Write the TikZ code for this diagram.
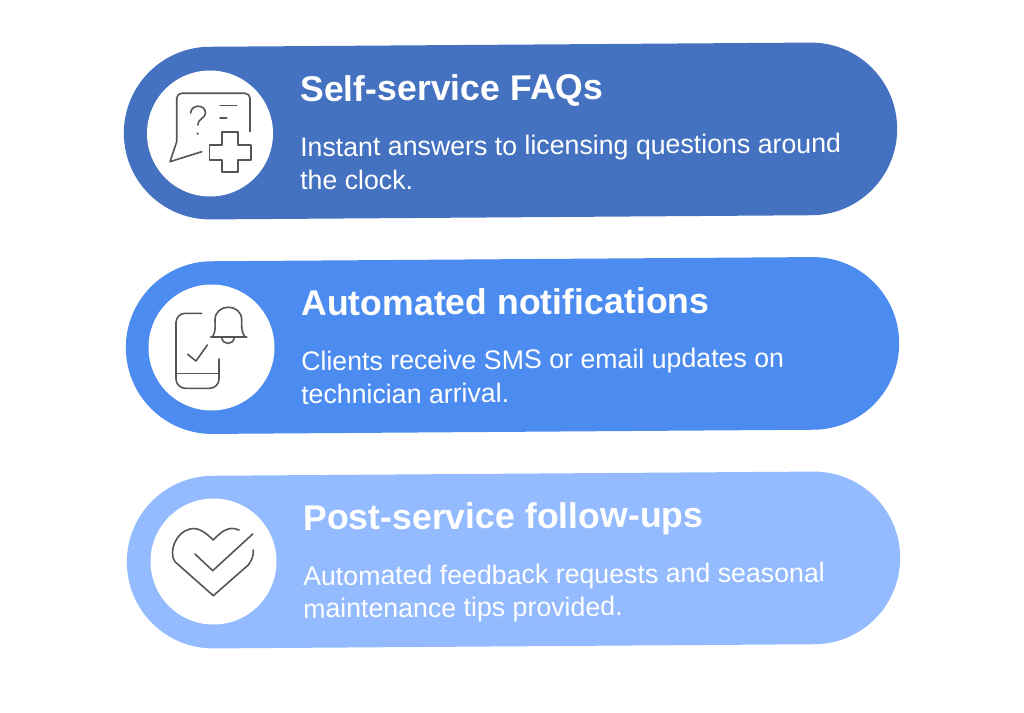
\documentclass[tikz,border=0pt]{standalone}
\usepackage{fontspec}
\setmainfont{Liberation Sans}
\usetikzlibrary{positioning}
\definecolor{barone}{HTML}{4472C0}
\definecolor{bartwo}{HTML}{4C8BF0}
\definecolor{barthree}{HTML}{94BBFF}
\definecolor{icongray}{HTML}{555555}
\tikzset{
  bar/.style={minimum width=580pt,minimum height=129.5pt,rounded corners=64.7pt,rotate=0.4,inner sep=0pt},
  disc/.style={circle,fill=white,minimum size=94.5pt,inner sep=0pt},
  headline/.style={anchor=base west,text=white,inner sep=0pt,rotate=0.4,font=\fontsize{26.75}{32}\selectfont\bfseries},
  blurb/.style={anchor=base west,text=white,inner sep=0pt,rotate=0.4,font=\fontsize{20.05}{26}\selectfont},
  icon/.style={draw=icongray,line width=1.2pt,line cap=round,line join=round}
}
\begin{document}
\begin{tikzpicture}[x=0.75pt,y=-0.75pt]
  \useasboundingbox (0,0) rectangle (1024,713);
  \node[bar,fill=barone] (barA) at (510.5,131) {};
  \node[bar,fill=bartwo] (barB) at (512.5,345.5) {};
  \node[bar,fill=barthree] (barC) at (513.5,560) {};
  \node[disc] (discA) at (210,133.5) {};
  \node[disc] (discB) at (211.5,347.5) {};
  \node[disc] (discC) at (213.5,561.5) {};

  % first row
  \node[headline] (headA) at (300,101.5) {Self-service FAQs};
  \node[blurb] (lineAa) at (300,156.5) {Instant answers to licensing questions around};
  \node[blurb] (lineAb) at (300,190) {the clock.};
  \draw[icon] (250,131.7) -- (250,98.3) to[out=90,in=0] (245,93.3) -- (181.7,93.3)
    to[out=180,in=90] (176.7,98.3) -- (176.7,141.7) -- (170,161.7) -- (201.7,151.7);
  \draw[icon] (190.7,113) .. controls (191,104) and (205.5,104) .. (205.5,113)
    .. controls (205.5,118) and (197.7,119) .. (197.7,125);
  \fill[icongray] (197.7,133.7) circle (1.2);
  \draw[icon] (220,105.7) -- (236.7,105.7) (220,118.3) -- (226.7,118.3);
  \draw[icon] (221.7,132.3) -- (237.7,132.3) -- (237.7,145) -- (250.7,145) -- (250.7,160)
    -- (237.7,160) -- (237.7,172.3) -- (221.7,172.3) -- (221.7,160) -- (209.3,160)
    -- (209.3,145) -- (221.7,145) -- cycle;

  % second row
  \node[headline] (headB) at (301,316) {Automated notifications};
  \node[blurb] (lineBa) at (301,370.5) {Clients receive SMS or email updates on};
  \node[blurb] (lineBb) at (301,404) {technician arrival.};
  \draw[icon,rounded corners=7pt] (201.7,313.3) -- (176,313.3) -- (176,388.3) -- (219,388.3) -- (219,359);
  \draw[icon] (176,373.3) -- (219,373.3);
  \draw[icon] (187.7,354.3) -- (196,361) -- (207.3,345);
  \draw[icon] (210.7,336.7) -- (246.7,336.7);
  \draw[icon] (212.7,336.7) .. controls (216,331) and (215,326) .. (215,320)
    .. controls (215,303) and (241.7,303) .. (241.7,320)
    .. controls (241.7,326) and (241,331) .. (244.7,336.7);
  \draw[icon] (221.7,337.3) .. controls (222.5,345.5) and (233.5,345.5) .. (234.3,337.3);

  % third row
  \node[headline] (headC) at (303,530) {Post-service follow-ups};
  \node[blurb] (lineCa) at (303,585.5) {Automated feedback requests and seasonal};
  \node[blurb] (lineCb) at (303,618) {maintenance tips provided.};
  \draw[icon] (239,530) .. controls (228,525) and (220,533) .. (213.3,540)
    .. controls (205,532) and (198,527) .. (190,529)
    .. controls (176,532) and (168,552) .. (175,561.7)
    -- (213.3,595.7) -- (248.3,565) .. controls (252,560) and (253.5,556) .. (253.3,550);
  \draw[icon] (195,554) -- (212.7,570.7) -- (252.7,534);
\end{tikzpicture}
\end{document}
